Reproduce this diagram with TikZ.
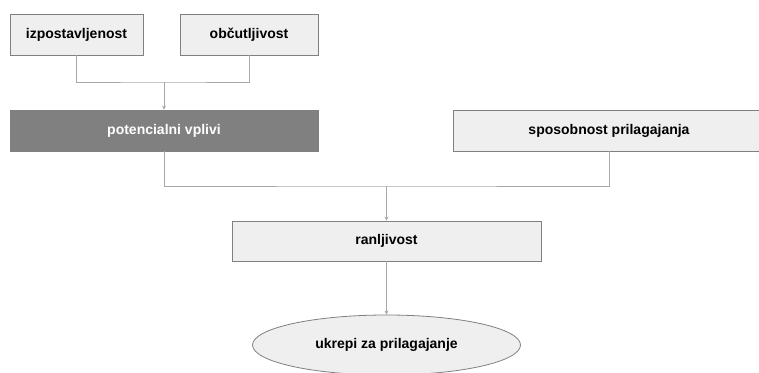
\documentclass[tikz,border=0pt]{standalone}
\usepackage{fontspec}
\setmainfont{Liberation Sans}
\usetikzlibrary{shapes.geometric,arrows.meta}
\definecolor{boxfill}{HTML}{EFEFEF}
\definecolor{boxline}{HTML}{808080}
\definecolor{darkfill}{HTML}{808080}
\definecolor{connline}{HTML}{A8A8A8}
\tikzset{
  lbox/.style={draw=boxline, fill=boxfill, line width=0.8pt, inner sep=0pt,
    font=\fontsize{14}{16}\selectfont\bfseries, text=black},
  dbox/.style={lbox, fill=darkfill, text=white},
  conn/.style={draw=connline, line width=0.9pt},
  arr/.style={conn, -{Stealth[length=4pt,width=4pt]}},
}
\begin{document}
\begin{tikzpicture}[x=1pt,y=-1pt]
\useasboundingbox (0,0) rectangle (759,372);
\node[lbox, minimum width=133pt, minimum height=41pt] (izp) at (76.5,34.5) {izpostavljenost};
\node[lbox, minimum width=138pt, minimum height=41pt] (obc) at (249,34.5) {občutljivost};
\node[dbox, minimum width=308pt, minimum height=41pt] (pot) at (164,130.5) {potencialni vplivi};
\node[lbox, minimum width=312pt, minimum height=41pt] (spo) at (609,130.5) {sposobnost prilagajanja};
\node[lbox, minimum width=309pt, minimum height=40pt] (ran) at (386.5,241) {ranljivost};
\node[lbox, ellipse, inner sep=0pt, minimum width=268pt, minimum height=60pt] (ukr) at (386.5,345) {ukrepi za prilagajanje};
\coordinate (j1) at (164,82);
\coordinate (j2) at (386.5,186);
\draw[conn] (izp.south) |- (j1) -| (obc.south);
\draw[arr] (j1) -- (pot.north);
\draw[conn] (pot.south) |- (j2) -| (spo.south);
\draw[arr] (j2) -- (ran.north);
\draw[arr] (ran.south) -- (ukr.north);
\end{tikzpicture}
\end{document}
